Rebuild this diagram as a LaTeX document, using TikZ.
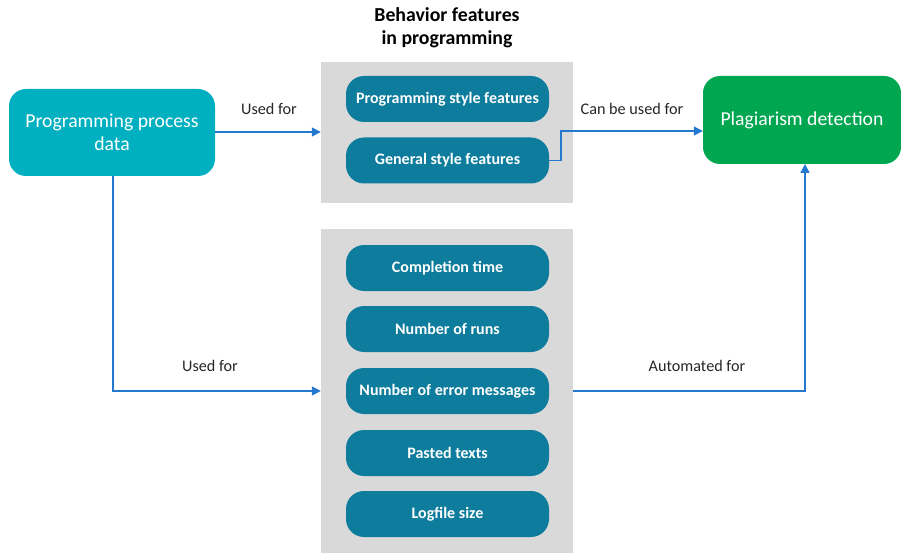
\documentclass[tikz,border=0pt]{standalone}
\usepackage{fontspec}
\setmainfont{Carlito}
\usetikzlibrary{arrows.meta}
\definecolor{cyanbox}{HTML}{00B0C0}
\definecolor{pillcol}{HTML}{0E7C9C}
\definecolor{greenbox}{HTML}{00A650}
\definecolor{panel}{HTML}{D9D9D9}
\definecolor{linkcol}{HTML}{2479CF}
\tikzset{
  panelbox/.style={fill=panel, draw=none, inner sep=0pt},
  pill/.style={fill=pillcol, draw=none, rounded corners=18pt, minimum width=203pt, minimum height=46pt,
    text=white, font=\bfseries\fontsize{16}{18}\selectfont, inner sep=0pt},
  bigbox/.style={draw=none, rounded corners=17pt, text=white, align=center,
    font=\fontsize{19.7}{23}\selectfont, inner sep=0pt},
  link/.style={draw=linkcol, line width=1.6pt, -{Triangle[length=9pt,width=9pt]}},
  lbl/.style={font=\fontsize{16.2}{18}\selectfont, text=black!85},
}
\begin{document}
\begin{tikzpicture}[x=1pt,y=-1pt]
\useasboundingbox (0,0) rectangle (901,553);
% grey panels
\node[panelbox, minimum width=252pt, minimum height=141pt] (top) at (447,132.5) {};
\node[panelbox, minimum width=252pt, minimum height=324pt] (bot) at (447,391) {};
% panel heading
\node[font=\bfseries\fontsize{19.8}{23}\selectfont, align=center] (head) at (447,28) {Behavior features\\in programming};
% feature pills
\node[pill] (p1) at (447.5,99) {Programming style features};
\node[pill] (p2) at (447.5,160.5) {General style features};
\node[pill] (q1) at (447.5,268) {Completion time};
\node[pill] (q2) at (447.5,329) {Number of runs};
\node[pill] (q3) at (447.5,391) {Number of error messages};
\node[pill] (q4) at (447.5,453) {Pasted texts};
\node[pill] (q5) at (447.5,514) {Logfile size};
% source and target
\node[bigbox, fill=cyanbox, minimum width=206pt, minimum height=87pt] (src) at (112,132.5) {Programming process\\data};
\node[bigbox, fill=greenbox, minimum width=198pt, minimum height=88pt] (dst) at (802,120) {Plagiarism detection};
% connectors
\coordinate (tin) at (top.west |- 0,132);
\draw[link] (src.east |- tin) -- (tin);
\coordinate (srcb) at (113,176);
\draw[link] (srcb) |- (bot.west |- q3);
\draw[link] (p2.east) -- (561,160.5) |- (dst.west |- 0,131);
\draw[link] (bot.east |- q3) -| (805,164);
% labels
\node[lbl] (l1) at (269,109) {Used for};
\node[lbl] (l2) at (632,109) {Can be used for};
\node[lbl] (l3) at (210,366) {Used for};
\node[lbl] (l4) at (697,366) {Automated for};
\end{tikzpicture}
\end{document}
